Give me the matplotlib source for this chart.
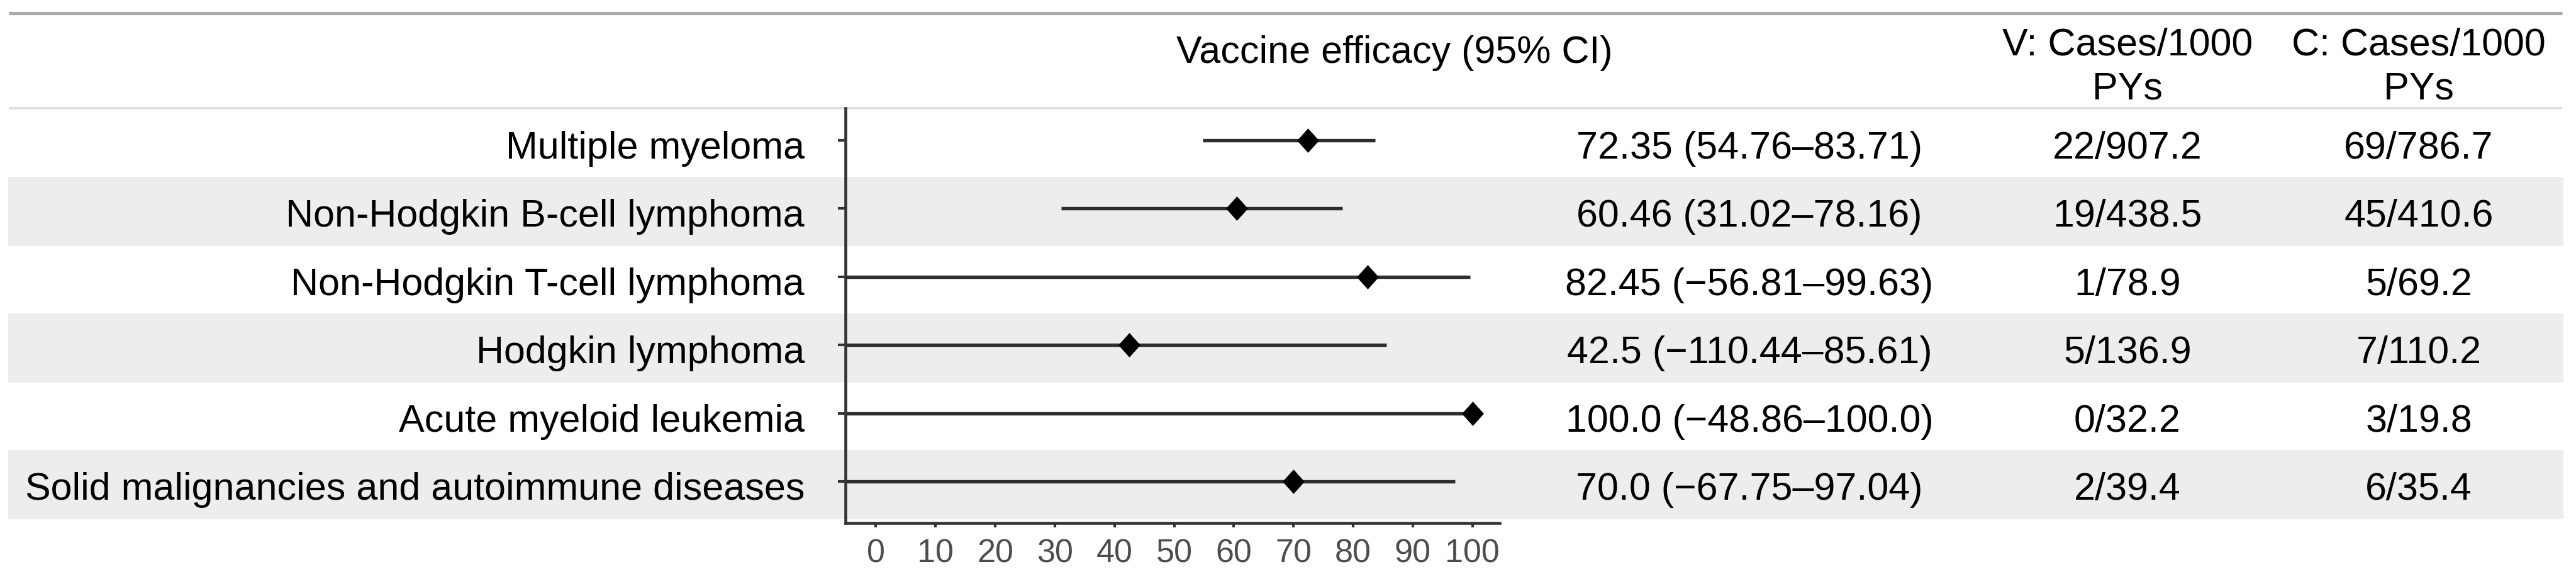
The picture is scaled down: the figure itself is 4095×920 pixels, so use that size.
import matplotlib
matplotlib.use("Agg")
import matplotlib.pyplot as plt
from matplotlib.patches import Rectangle
from matplotlib.transforms import blended_transform_factory

plt.rcParams['font.family'] = ['Liberation Sans', 'DejaVu Sans']

# dati
categories = ["Multiple myeloma", "Non-Hodgkin B-cell lymphoma", "Non-Hodgkin T-cell lymphoma",
              "Hodgkin lymphoma", "Acute myeloid leukemia",
              "Solid malignancies and autoimmune diseases"]
ve = [72.35, 60.46, 82.45, 42.5, 100.0, 70.0]
ci_low = [54.76, 31.02, -56.81, -110.44, -48.86, -67.75]
ci_high = [83.71, 78.16, 99.63, 85.61, 100.0, 97.04]
v_cases = ["22/907.2", "19/438.5", "1/78.9", "5/136.9", "0/32.2", "2/39.4"]
c_cases = ["69/786.7", "45/410.6", "5/69.2", "7/110.2", "3/19.8", "6/35.4"]
xticks = [0, 10, 20, 30, 40, 50, 60, 70, 80, 90, 100]

W, H = 4095, 920
fig = plt.figure(figsize=(W / 300, H / 300), dpi=300)

# asse di sfondo in pixel, per righe orizzontali, bande e colonne di testo
bg = fig.add_axes([0, 0, 1, 1])
bg.set_xlim(0, W)
bg.set_ylim(H, 0)
bg.axis('off')

# asse del forest plot
ax = fig.add_axes([1344 / W, (H - 830.7) / H, (2383.5 - 1344) / W, (830.7 - 172) / H])
ax.patch.set_visible(False)
n = len(categories)
ypos = [n - i for i in range(n)]
ax.set_ylim(0.394, 6.47)
ax.set_xlim(-5.1, 104.5)

trans = blended_transform_factory(bg.transData, ax.transData)

# bande grigie alternate
for i, y in enumerate(ypos):
    if i % 2 == 1:
        bg.add_patch(Rectangle((13, y - 0.55), 4075 - 13, 1.01, transform=trans,
                               facecolor='#ededed', edgecolor='none', zorder=0))

# linee della tabella
bg.plot([14, 4073], [21.5, 21.5], color='#ababab', lw=1.25, solid_capstyle='butt', zorder=1)
bg.plot([14, 4073], [172, 172], color='#dedede', lw=1.0, solid_capstyle='butt', zorder=1)

# intestazioni
fs = 14.65
bg.text(2217, 100, "Vaccine efficacy (95% CI)", ha='center', va='baseline', fontsize=fs)
bg.text(3382, 88, "V: Cases/1000", ha='center', va='baseline', fontsize=fs)
bg.text(3382, 157, "PYs", ha='center', va='baseline', fontsize=fs)
bg.text(3845, 88, "C: Cases/1000", ha='center', va='baseline', fontsize=fs)
bg.text(3845, 157, "PYs", ha='center', va='baseline', fontsize=fs)


def fmt(v):
    return str(v).replace('-', '\u2212')


# intervalli di confidenza e stime
for y, e, lo, hi in zip(ypos, ve, ci_low, ci_high):
    ax.plot([lo, hi], [y, y], color='#2e2e2e', lw=1.3, solid_capstyle='butt', zorder=2)
ax.plot(ve, ypos, linestyle='none', marker=[(0, 1), (0.9, 0), (0, -1), (-0.9, 0), (0, 1)],
        markersize=9.3, markeredgewidth=0, color='black', zorder=3)

# colonne di testo
off = -29 / 108.4
for y, name, e, lo, hi, vc, cc in zip(ypos, categories, ve, ci_low, ci_high, v_cases, c_cases):
    bg.text(1279, y + off, name, transform=trans, ha='right', va='baseline', fontsize=fs)
    bg.text(2781, y + off, f"{fmt(e)} ({fmt(lo)}\u2013{fmt(hi)})", transform=trans,
            ha='center', va='baseline', fontsize=fs)
    bg.text(3382, y + off, vc, transform=trans, ha='center', va='baseline', fontsize=fs)
    bg.text(3845, y + off, cc, transform=trans, ha='center', va='baseline', fontsize=fs)

# assi
for s in ['top', 'right']:
    ax.spines[s].set_visible(False)
for s in ['left', 'bottom']:
    ax.spines[s].set_color('#333333')
    ax.spines[s].set_linewidth(1.1)
ax.set_yticks(ypos)
ax.set_yticklabels([])
ax.set_xticks(xticks)
ax.set_xticklabels([str(t) for t in xticks])
ax.tick_params(axis='y', length=2.8, width=1.0, color='#333333')
ax.tick_params(axis='x', length=1.6, width=1.0, color='#333333', pad=4.4,
               labelsize=12.5, labelcolor='#4d4d4d')

fig.savefig("out.png", dpi=300)
